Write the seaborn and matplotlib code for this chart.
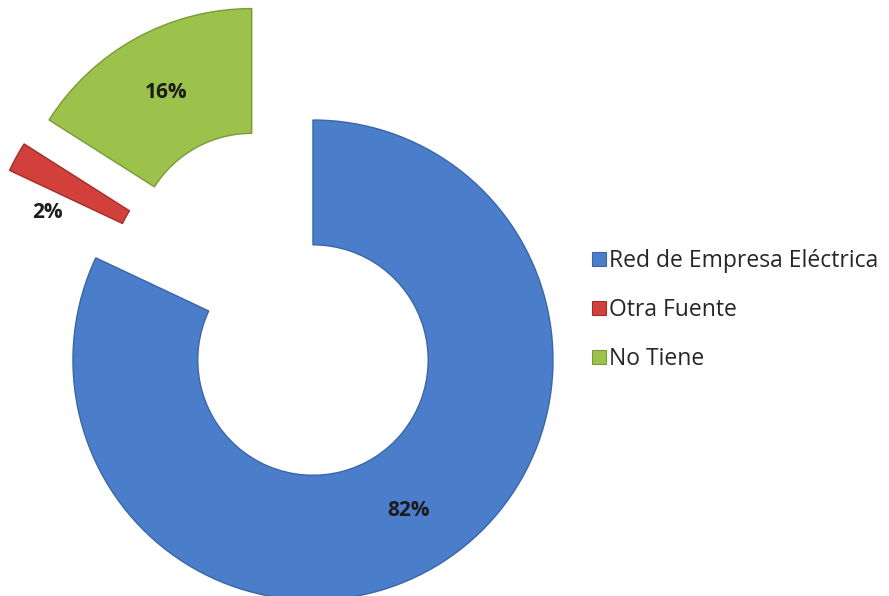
import matplotlib
matplotlib.use("Agg")
import matplotlib.pyplot as plt
import seaborn as sns
from matplotlib.lines import Line2D

# Data
categories = ["Red de Empresa Eléctrica", "Otra Fuente", "No Tiene"]
values = [82, 2, 16]
colors = ["#4a7ecb", "#d2403b", "#9cc24c"]
edges = ["#3a66a8", "#9e2f2b", "#7a9a38"]
explode = [0.0, 0.41, 0.53]

sns.set_theme(style="white")
plt.rcParams['font.family'] = ['Open Sans', 'DejaVu Sans']

fig = plt.figure(figsize=(8.89, 5.96), dpi=100)
ax = fig.add_axes([0, 0, 1, 1])

wedges, texts, autotexts = ax.pie(
    values,
    colors=colors,
    explode=explode,
    startangle=90,
    counterclock=False,
    radius=1.0,
    autopct=lambda p: f"{p:.0f}%",
    pctdistance=0.74,
    wedgeprops=dict(width=0.52, linewidth=1.0),
    textprops=dict(fontsize=15, fontweight="bold", color="#1c1c1c"),
)
for w, ec in zip(wedges, edges):
    w.set_edgecolor(ec)

# the small slice sits a bit higher than a plain explode puts it
lift = 0.167
cx, cy = wedges[1].center
wedges[1].set_center((cx, cy + lift))
x, y = autotexts[1].get_position()
autotexts[1].set_position((x - 0.1, y + lift - 0.105))

ax.set_xlim(-1.304, 2.4)
ax.set_ylim(-0.983, 1.5)
ax.set_aspect("equal")
ax.axis("off")

handles = [Line2D([0], [0], marker="s", linestyle="none", markersize=9.5,
                  markerfacecolor=c, markeredgecolor=e, markeredgewidth=0.8)
           for c, e in zip(colors, edges)]
ax.legend(handles, categories, loc="center left", bbox_to_anchor=(0.652, 0.48),
          bbox_transform=fig.transFigure, frameon=False, fontsize=16.5,
          handletextpad=0.1, handlelength=0.7, labelspacing=1.1, borderpad=0)

fig.savefig("out.png", dpi=100)
